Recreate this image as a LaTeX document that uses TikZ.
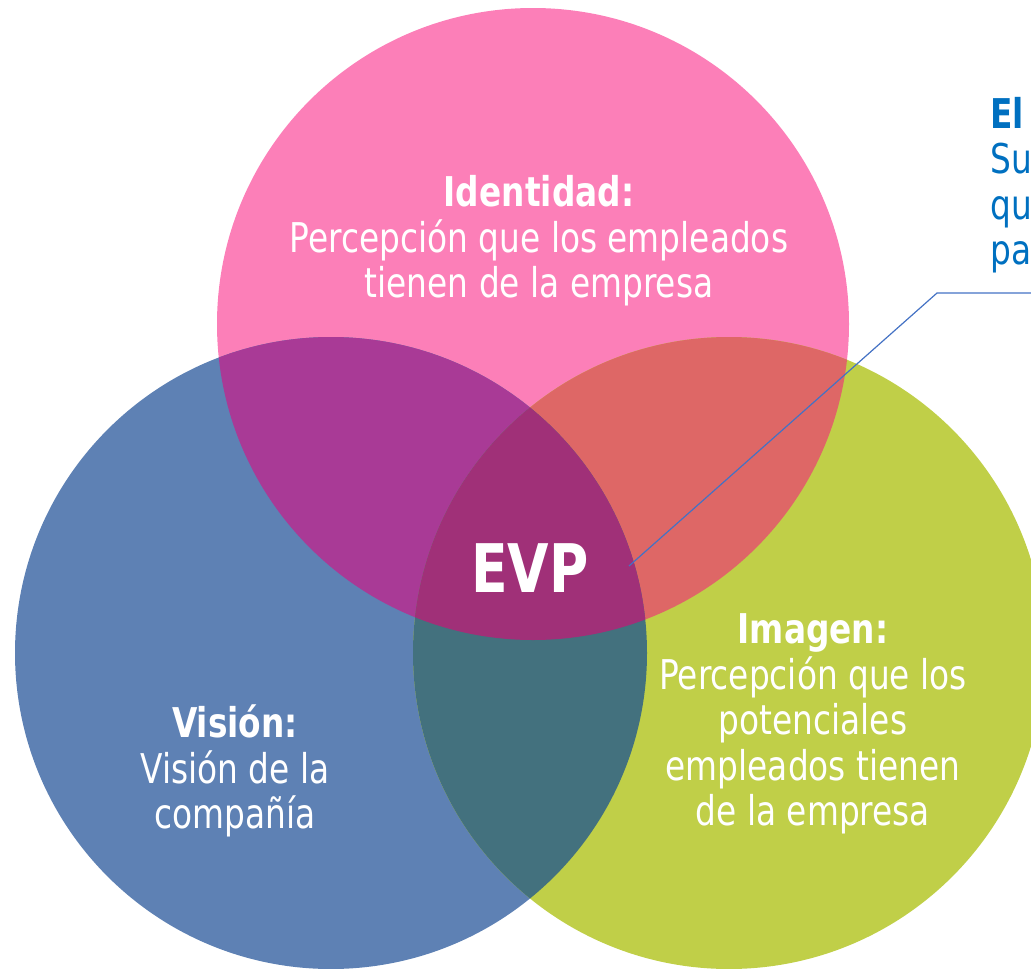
\documentclass[tikz,border=0pt]{standalone}
\usepackage{fontspec}
\setmainfont[FakeStretch=0.8]{DejaVu Sans}
\usetikzlibrary{positioning, calc}
\definecolor{identc}{RGB}{252,127,184}
\definecolor{visionc}{RGB}{94,129,180}
\definecolor{imagenc}{RGB}{192,207,72}
\definecolor{idvisc}{RGB}{169,58,150}
\definecolor{idimgc}{RGB}{222,103,102}
\definecolor{visimgc}{RGB}{67,113,126}
\definecolor{evpc}{RGB}{160,48,120}
\definecolor{notec}{RGB}{0,112,192}
\definecolor{calloutc}{RGB}{68,114,196}

\begin{document}
\begin{tikzpicture}[x=1pt, y=-1pt,
    label/.style={text=white, align=center, inner sep=0pt,
                  font=\fontsize{41}{45.5}\selectfont},
    note/.style={text=notec, align=left, inner sep=0pt, anchor=west,
                 font=\fontsize{41}{45.5}\selectfont},
    callout/.style={draw=calloutc, line width=1.2pt}]
    \useasboundingbox (0,0) rectangle (1031,969);

    % Circle centres
    \coordinate (cid) at (533,324);
    \coordinate (cvis) at (331,653);
    \coordinate (cimg) at (729,653);

    % Circles
    \fill[identc] (cid) circle[radius=316pt];
    \fill[visionc] (cvis) circle[radius=316pt];
    \fill[imagenc] (cimg) circle[radius=316pt];

    % Overlaps
    \begin{scope}
        \clip (cid) circle[radius=316pt];
        \fill[idvisc] (cvis) circle[radius=316pt];
        \fill[idimgc] (cimg) circle[radius=316pt];
    \end{scope}
    \begin{scope}
        \clip (cvis) circle[radius=316pt];
        \fill[visimgc] (cimg) circle[radius=316pt];
        \clip (cimg) circle[radius=316pt];
        \fill[evpc] (cid) circle[radius=316pt];
    \end{scope}

    % Labels
    \node[label] (ident) at (539,241) {\textbf{Identidad:}\\Percepción que los empleados\\tienen de la empresa};
    \node[label] (vision) at (235,771) {\textbf{Visión:}\\Visión de la\\compañía};
    \node[label] (imagen) at (813,724) {\textbf{Imagen:}\\Percepción que los\\potenciales\\empleados tienen\\de la empresa};
    \node[text=white, inner sep=0pt, font=\fontsize{67}{70}\selectfont\bfseries] (evp) at (530,568) {EVP};

    % Note at the right edge
    \node[note] (elnote) at (990,185) {\textbf{El}\\Su\\qu\\pa};

    % Callout
    \coordinate (tip) at (629,566);
    \coordinate (bend) at (937,293);
    \coordinate (lineend) at (1031,293);
    \draw[callout] (tip) -- (bend) -- (lineend);
\end{tikzpicture}
\end{document}
